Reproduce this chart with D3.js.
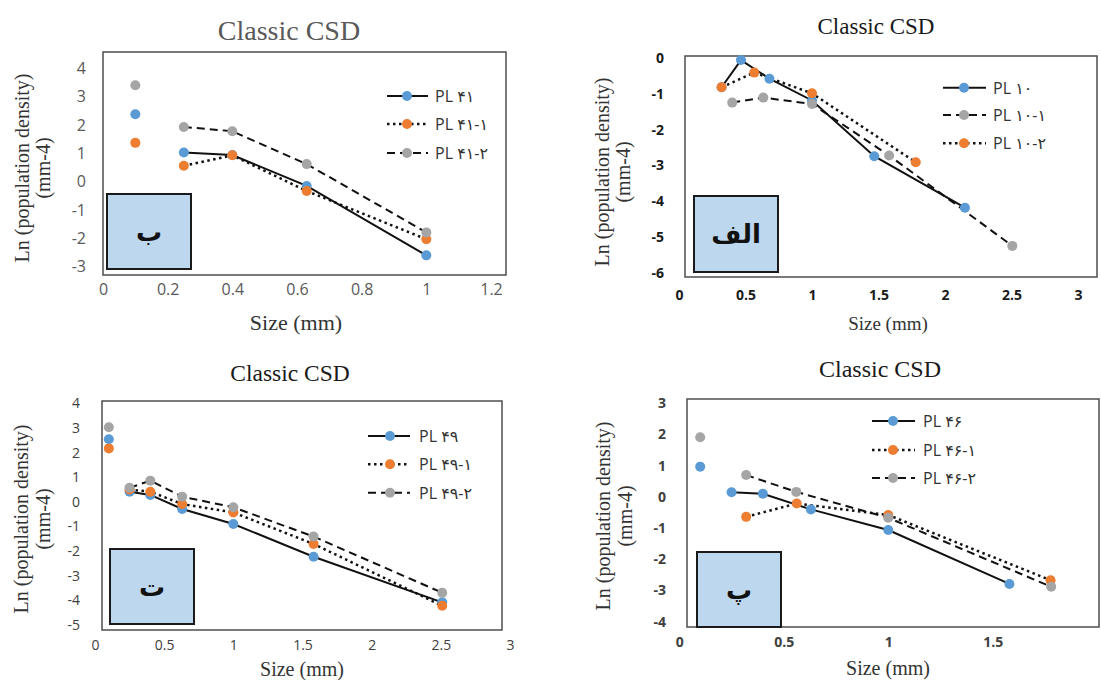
<!DOCTYPE html>
<html>
<head>
<meta charset="utf-8">
<script src="https://cdn.jsdelivr.net/npm/d3@7"></script>
<style>
  body { margin: 0; background: #fff; }
  svg { display: block; }
</style>
</head>
<body>
<div id="chart"></div>
<script>
// data
// panel "ب" (PL 41)
const sizes41 = [0.1, 0.25, 0.4, 0.63, 1.0]
const pl41 = [2.38, 1.03, 0.94, -0.15, -2.6]
const pl41_1 = [1.37, 0.56, 0.93, -0.33, -2.03]
const pl41_2 = [3.4, 1.93, 1.78, 0.62, -1.79]

// panel "الف" (PL 10), each series has its own sizes
const sizes10 = [0.32, 0.466, 0.68, 1.0, 1.468, 2.15]
const pl10 = [-0.81, -0.05, -0.57, -1.18, -2.74, -4.18]
const sizes10_1 = [0.4, 0.634, 1.0, 1.58, 2.506]
const pl10_1 = [-1.24, -1.1, -1.28, -2.72, -5.25]
const sizes10_2 = [0.32, 0.566, 1.0, 1.78]
const pl10_2 = [-0.81, -0.4, -0.98, -2.91]

// panel "ت" (PL 49)
const sizes49 = [0.1, 0.25, 0.4, 0.63, 1.0, 1.58, 2.51]
const pl49 = [2.54, 0.41, 0.28, -0.29, -0.9, -2.23, -4.08]
const pl49_1 = [2.17, 0.5, 0.41, -0.09, -0.43, -1.71, -4.22]
const pl49_2 = [3.03, 0.57, 0.86, 0.21, -0.22, -1.41, -3.69]

// panel "پ" (PL 46)
const sizes46 = [0.1, 0.25, 0.4, 0.63, 1.0, 1.58]
const pl46 = [0.97, 0.15, 0.1, -0.4, -1.06, -2.79]
const sizes46_1 = [0.32, 0.562, 1.0, 1.777]
const pl46_1 = [-0.64, -0.21, -0.58, -2.67]
const sizes46_2 = [0.1, 0.32, 0.56, 1.0, 1.78]
const pl46_2 = [1.91, 0.7, 0.16, -0.67, -2.88]

// tick labels
const xTicks41 = [0, 0.2, 0.4, 0.6, 0.8, 1, 1.2]
const yTicks41 = [-3, -2, -1, 0, 1, 2, 3, 4]
const xTicks10 = [0, 0.5, 1, 1.5, 2, 2.5, 3]
const yTicks10 = [-6, -5, -4, -3, -2, -1, 0]
const xTicks49 = [0, 0.5, 1, 1.5, 2, 2.5, 3]
const yTicks49 = [-5, -4, -3, -2, -1, 0, 1, 2, 3, 4]
const xTicks46 = [0, 0.5, 1, 1.5]
const yTicks46 = [-4, -3, -2, -1, 0, 1, 2, 3]

const names41 = ["PL ۴۱", "PL ۴۱-۱", "PL ۴۱-۲"]
const names10 = ["PL ۱۰", "PL ۱۰-۱", "PL ۱۰-۲"]
const names49 = ["PL ۴۹", "PL ۴۹-۱", "PL ۴۹-۲"]
const names46 = ["PL ۴۶", "PL ۴۶-۱", "PL ۴۶-۲"]

const title = "Classic CSD"
const xTitle = "Size (mm)"
const yTitle1 = "Ln (population density)"
const yTitle2 = "(mm-4)"

const blue = '#5b9bd5'
const orange = '#ed7d31'
const gray = '#a5a5a5'
const solid = null
const dotted = '2.5,3.5'
const dashed = '8,5'

const width = 1101
const height = 680

const svg = d3.select('#chart')
  .append('svg')
  .attr('width', width)
  .attr('height', height)

// layout of each panel, matched to the picture
const panels = [
  {
    tag: 'ب',
    xDomain: [0, 1.2], xRange: [103, 491],
    yDomain: [-3, 4], yRange: [266.7, 68.3],
    frame: [103, 52, 506, 275],
    xTicks: xTicks41, yTicks: yTicks41,
    yLabelX: 86, xLabelY: 284, tickSize: 16, tickWeight: 'normal', tickColor: '#595959',
    title: [289, 30, 28, '#595959'],
    xTitle: [296, 322, 22], yTitle: [22, 43, 168, 20],
    legend: { x0: 387, x1: 428, mx: 407, tx: 435, rows: [96, 124, 153] },
    box: [107, 194, 191, 269],
    series: [
      { name: names41[0], xs: sizes41, ys: pl41, color: blue, dash: solid, from: 1 },
      { name: names41[1], xs: sizes41, ys: pl41_1, color: orange, dash: dotted, from: 1 },
      { name: names41[2], xs: sizes41, ys: pl41_2, color: gray, dash: dashed, from: 1 }
    ]
  },
  {
    tag: 'الف',
    xDomain: [0, 3], xRange: [679, 1078],
    yDomain: [-6, 0], yRange: [272.7, 58.3],
    frame: [685, 56, 1097, 277],
    xTicks: xTicks10, yTicks: yTicks10,
    yLabelX: 664, xLabelY: 290, tickSize: 14, tickWeight: 'bold', tickColor: '#1a1a1a',
    title: [876, 26, 23, '#1a1a1a'],
    xTitle: [888, 323, 19], yTitle: [602, 623, 172, 20],
    legend: { x0: 943, x1: 986, mx: 964, tx: 993, rows: [87.7, 115, 143.3] },
    box: [694, 196, 778, 272],
    series: [
      { name: names10[0], xs: sizes10, ys: pl10, color: blue, dash: solid, from: 0 },
      { name: names10[1], xs: sizes10_1, ys: pl10_1, color: gray, dash: dashed, from: 0 },
      { name: names10[2], xs: sizes10_2, ys: pl10_2, color: orange, dash: dotted, from: 0 }
    ]
  },
  {
    tag: 'ت',
    xDomain: [0, 3], xRange: [95, 510],
    yDomain: [-5, 4], yRange: [625, 403.3],
    frame: [102, 401, 502, 630],
    xTicks: xTicks49, yTicks: yTicks49,
    yLabelX: 80, xLabelY: 640, tickSize: 14, tickWeight: 'normal', tickColor: '#404040',
    title: [290, 373, 23.5, '#1a1a1a'],
    xTitle: [302, 669, 20], yTitle: [21, 43, 519, 20],
    legend: { x0: 368, x1: 410, mx: 390, tx: 419, rows: [436, 464.3, 492.7] },
    box: [110, 549, 194, 624],
    series: [
      { name: names49[0], xs: sizes49, ys: pl49, color: blue, dash: solid, from: 1 },
      { name: names49[1], xs: sizes49, ys: pl49_1, color: orange, dash: dotted, from: 1 },
      { name: names49[2], xs: sizes49, ys: pl49_2, color: gray, dash: dashed, from: 1 }
    ]
  },
  {
    tag: 'پ',
    xDomain: [0, 1.5], xRange: [679.3, 992.7],
    yDomain: [-4, 3], yRange: [621.7, 403.3],
    frame: [687, 399, 1099, 627],
    xTicks: xTicks46, yTicks: yTicks46,
    yLabelX: 666, xLabelY: 637, tickSize: 14, tickWeight: 'bold', tickColor: '#404040',
    title: [880, 369, 24, '#1a1a1a'],
    xTitle: [888, 668, 20], yTitle: [603, 625, 516, 20],
    legend: { x0: 872, x1: 915, mx: 893, tx: 923, rows: [421, 450, 478] },
    box: [697, 552, 781, 627],
    series: [
      { name: names46[0], xs: sizes46, ys: pl46, color: blue, dash: solid, from: 1 },
      { name: names46[1], xs: sizes46_1, ys: pl46_1, color: orange, dash: dotted, from: 0 },
      { name: names46[2], xs: sizes46_2, ys: pl46_2, color: gray, dash: dashed, from: 1 }
    ]
  }
]

const serif = '"Liberation Serif", "Times New Roman", serif'
const sans = '"Open Sans", "DejaVu Sans", sans-serif'

const drawPanel = function (p) {
  const xScale = d3.scaleLinear().domain(p.xDomain).range(p.xRange)
  const yScale = d3.scaleLinear().domain(p.yDomain).range(p.yRange)
  const g = svg.append('g')

  // title
  g.append('text')
    .attr('x', p.title[0]).attr('y', p.title[1])
    .attr('text-anchor', 'middle').attr('dominant-baseline', 'central')
    .attr('font-family', serif).attr('font-size', p.title[2])
    .attr('fill', p.title[3])
    .text(title)

  // axes, labels only
  const yAxis = d3.axisLeft(yScale).tickValues(p.yTicks).tickSize(0).tickPadding(0)
    .tickFormat(d => String(d))
  const xAxis = d3.axisBottom(xScale).tickValues(p.xTicks).tickSize(0).tickPadding(0)
    .tickFormat(d => String(d))

  g.append('g')
    .attr('transform', 'translate(' + p.yLabelX + ',0)')
    .call(yAxis)
    .call(a => a.select('.domain').remove())
    .attr('font-family', sans).attr('font-size', p.tickSize).attr('font-weight', p.tickWeight)
    .selectAll('text').attr('fill', p.tickColor)

  g.append('g')
    .attr('transform', 'translate(0,' + p.xLabelY + ')')
    .call(xAxis)
    .call(a => a.select('.domain').remove())
    .attr('font-family', sans).attr('font-size', p.tickSize).attr('font-weight', p.tickWeight)
    .selectAll('text').attr('fill', p.tickColor)

  // axis titles
  g.append('text')
    .attr('x', p.xTitle[0]).attr('y', p.xTitle[1])
    .attr('text-anchor', 'middle').attr('dominant-baseline', 'central')
    .attr('font-family', serif).attr('font-size', p.xTitle[2]).attr('fill', '#333')
    .text(xTitle)

  const yt = g.append('g').attr('font-family', serif).attr('font-size', p.yTitle[3]).attr('fill', '#333')
  yt.append('text')
    .attr('transform', 'translate(' + p.yTitle[0] + ',' + p.yTitle[2] + ') rotate(-90)')
    .attr('text-anchor', 'middle').attr('dominant-baseline', 'central')
    .text(yTitle1)
  yt.append('text')
    .attr('transform', 'translate(' + p.yTitle[1] + ',' + p.yTitle[2] + ') rotate(-90)')
    .attr('text-anchor', 'middle').attr('dominant-baseline', 'central')
    .text(yTitle2)

  // plot frame
  g.append('rect')
    .attr('x', p.frame[0]).attr('y', p.frame[1])
    .attr('width', p.frame[2] - p.frame[0]).attr('height', p.frame[3] - p.frame[1])
    .attr('fill', 'none').attr('stroke', '#4d4d4d').attr('stroke-width', 1.5)

  // series lines, then markers
  const line = d3.line().x(d => xScale(d[0])).y(d => yScale(d[1]))
  p.series.forEach(s => {
    const pts = d3.zip(s.xs, s.ys)
    g.append('path')
      .datum(pts.slice(s.from))
      .attr('d', line)
      .attr('fill', 'none')
      .attr('stroke', '#111')
      .attr('stroke-width', s.dash === dotted ? 2.5 : 2)
      .attr('stroke-dasharray', s.dash)
  })
  p.series.forEach(s => {
    g.append('g').selectAll('circle')
      .data(d3.zip(s.xs, s.ys))
      .enter()
      .append('circle')
      .attr('cx', d => xScale(d[0]))
      .attr('cy', d => yScale(d[1]))
      .attr('r', 5)
      .attr('fill', s.color)
  })

  // legend
  const lg = p.legend
  p.series.forEach((s, i) => {
    const ry = lg.rows[i]
    g.append('line')
      .attr('x1', lg.x0).attr('x2', lg.x1).attr('y1', ry).attr('y2', ry)
      .attr('stroke', '#111')
      .attr('stroke-width', s.dash === dotted ? 2.5 : 2)
      .attr('stroke-dasharray', s.dash)
    g.append('circle').attr('cx', lg.mx).attr('cy', ry).attr('r', 5).attr('fill', s.color)
    g.append('text')
      .attr('x', lg.tx).attr('y', ry)
      .attr('dominant-baseline', 'central')
      .attr('font-family', sans).attr('font-size', 16).attr('fill', '#333')
      .text(s.name)
  })

  // panel tag box
  g.append('rect')
    .attr('x', p.box[0]).attr('y', p.box[1])
    .attr('width', p.box[2] - p.box[0]).attr('height', p.box[3] - p.box[1])
    .attr('fill', '#bdd7ee').attr('stroke', '#1a1a1a').attr('stroke-width', 2)
  g.append('text')
    .attr('x', (p.box[0] + p.box[2]) / 2).attr('y', (p.box[1] + p.box[3]) / 2)
    .attr('text-anchor', 'middle').attr('dominant-baseline', 'central')
    .attr('font-family', '"DejaVu Sans", sans-serif').attr('font-weight', 'bold')
    .attr('font-size', 26).attr('fill', '#111')
    .text(p.tag)
}

panels.forEach(drawPanel)
</script>
</body>
</html>
